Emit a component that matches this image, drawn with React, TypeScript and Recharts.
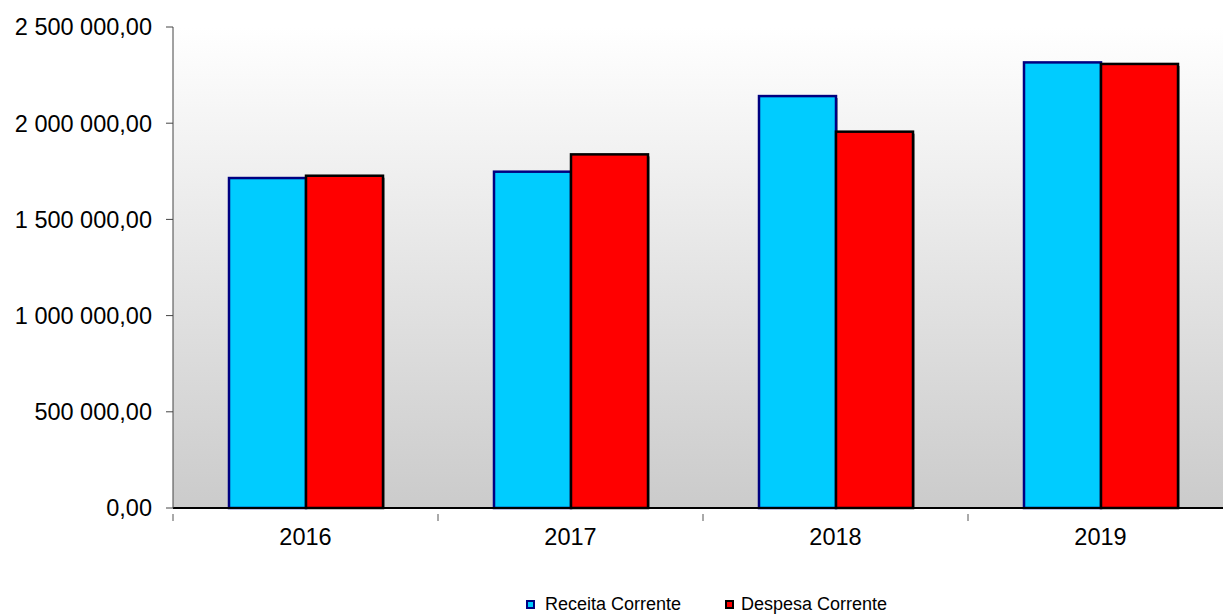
import React from 'react';
import { BarChart, Bar, XAxis, YAxis, CartesianGrid, Legend } from 'recharts';

const years = ['2016', '2017', '2018', '2019'];
const receitaCorrente = [1715000, 1748000, 2141000, 2316000];
const despesaCorrente = [1727000, 1838000, 1956000, 2308000];
const yTicks = [0, 500000, 1000000, 1500000, 2000000, 2500000];
const seriesNames = ['Receita Corrente', 'Despesa Corrente'];

const data = years.map((y, i) => ({
  year: y,
  receita: receitaCorrente[i],
  despesa: despesaCorrente[i],
}));

const FONT = '"Liberation Sans", Arial, sans-serif';

function fmt(v: number): string {
  const s = Math.round(v).toString();
  const parts: string[] = [];
  for (let i = s.length; i > 0; i -= 3) {
    parts.unshift(s.slice(Math.max(0, i - 3), i));
  }
  return parts.join(' ') + ',00';
}

const ShadowBar = (props: any) => {
  const { x, y, width, height, fill, stroke, strokeWidth } = props;
  if (!height || height <= 0) return null;
  return (
    <g>
      <rect x={x + 2} y={y + 2} width={width} height={height - 2} fill="#808080" opacity={0.8} />
      <rect x={x} y={y} width={width} height={height} fill={fill} stroke={stroke} strokeWidth={strokeWidth} />
    </g>
  );
};

const XTick = (props: any) => {
  const { x, y, payload } = props;
  const half = payload && payload.offset ? payload.offset : 0;
  return (
    <g>
      <line x1={x - half} y1={y - 14} x2={x - half} y2={y - 7} stroke="#555" strokeWidth={1} />
      <text x={x} y={y} dy="0.71em" textAnchor="middle" fontFamily={FONT} fontSize={23.5} fill="#000">
        {payload.value}
      </text>
    </g>
  );
};

const LegendContent = () => (
  <div style={{ position: 'relative', height: 47, fontFamily: FONT, fontSize: 18, color: '#000' }}>
    <div style={{ position: 'absolute', left: 526, top: 26, display: 'flex', alignItems: 'center' }}>
      <span style={{ display: 'inline-block', width: 5, height: 5, background: '#00CCFF', border: '2px solid #000080', marginRight: 10 }} />
      <span>{seriesNames[0]}</span>
    </div>
    <div style={{ position: 'absolute', left: 725, top: 26, display: 'flex', alignItems: 'center' }}>
      <span style={{ display: 'inline-block', width: 5, height: 5, background: '#FF0000', border: '2px solid #000', marginRight: 7 }} />
      <span>{seriesNames[1]}</span>
    </div>
  </div>
);

export default function App() {
  return (
    <div style={{ position: 'absolute', left: 0, top: 0, width: 1223, height: 615, overflow: 'hidden', background: '#fff' }}>
      <BarChart
        width={1233}
        height={615}
        data={data}
        margin={{ top: 27, right: 0, left: 0, bottom: 0 }}
        barCategoryGap={56}
        barGap={0}
      >
        <defs>
          <linearGradient id="plotBg" x1="0" y1="0" x2="0" y2="1">
            <stop offset="0%" stopColor="#ffffff" />
            <stop offset="100%" stopColor="#cbcbcb" />
          </linearGradient>
        </defs>
        <CartesianGrid horizontal={false} vertical={false} fill="url(#plotBg)" stroke="none" />
        <XAxis
          dataKey="year"
          height={60}
          axisLine={{ stroke: '#000', strokeWidth: 2 }}
          tickLine={false}
          tickSize={6}
          tickMargin={14}
          tick={<XTick />}
          interval={0}
        />
        <YAxis
          width={173}
          domain={[0, 2500000]}
          ticks={yTicks}
          tickFormatter={fmt}
          axisLine={{ stroke: '#444', strokeWidth: 1 }}
          tickLine={{ stroke: '#444' }}
          tickSize={7}
          tickMargin={14}
          tick={{ fontFamily: FONT, fontSize: 23.5, fill: '#000' }}
          interval={0}
        />
        <Legend verticalAlign="bottom" height={47} content={<LegendContent />} />
        <Bar dataKey="receita" name={seriesNames[0]} fill="#00CCFF" stroke="#000080" strokeWidth={2.5} shape={<ShadowBar />} isAnimationActive={false} />
        <Bar dataKey="despesa" name={seriesNames[1]} fill="#FF0000" stroke="#000000" strokeWidth={2.5} shape={<ShadowBar />} isAnimationActive={false} />
      </BarChart>
    </div>
  );
}
